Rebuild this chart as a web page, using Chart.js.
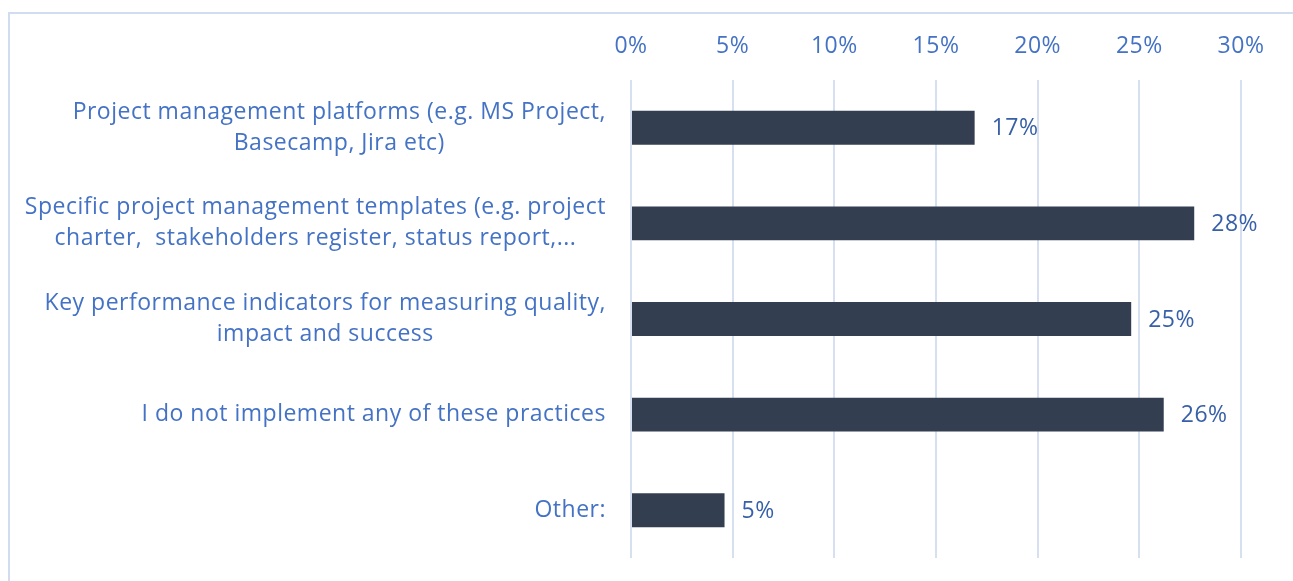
<!DOCTYPE html>
<html>
<head>
<meta charset="utf-8">
<script src="https://cdn.jsdelivr.net/npm/chart.js@4.4.1/dist/chart.umd.min.js"></script>
<style>
  html, body { margin: 0; padding: 0; background: #fff; }
  #wrap { width: 1293px; height: 581px; position: relative; }
</style>
</head>
<body>
<div id="wrap"><canvas id="chart" width="1293" height="581"></canvas></div>
<script>
const categories = [
    ['Project management platforms (e.g. MS Project,', 'Basecamp, Jira etc)'],
    ['Specific project management templates (e.g. project', 'charter,  stakeholders register, status report,...'],
    ['Key performance indicators for measuring quality,', 'impact and success'],
    ['I do not implement any of these practices'],
    ['Other:']
];
const values = [16.9, 27.7, 24.6, 26.2, 4.6];
const valueLabels = ['17%', '28%', '25%', '26%', '5%'];
const tickValues = [0, 5, 10, 15, 20, 25, 30];

const labelBlue = '#4472C4';
const dataBlue = '#3760A8';
const barColor = '#333F50';
const gridColor = '#D6E0F1';
const fontFamily = '"Open Sans", "Noto Sans", sans-serif';
const fontSize = 23;

// outer frame line (left + top), also sets letter spacing for all text
const framePlugin = {
    id: 'frame',
    beforeDraw(chart) {
        const ctx = chart.ctx;
        ctx.letterSpacing = '0.5px';
        ctx.save();
        ctx.strokeStyle = '#D0DCEF';
        ctx.lineWidth = 2;
        ctx.beginPath();
        ctx.moveTo(9, 581);
        ctx.lineTo(9, 13);
        ctx.lineTo(1293, 13);
        ctx.stroke();
        ctx.restore();
    }
};

// category labels: block right-aligned, lines centred within the block
const categoryLabelPlugin = {
    id: 'categoryLabels',
    afterDraw(chart) {
        const ctx = chart.ctx;
        const yScale = chart.scales.y;
        ctx.save();
        ctx.font = fontSize + 'px ' + fontFamily;
        ctx.fillStyle = labelBlue;
        ctx.textAlign = 'center';
        ctx.textBaseline = 'middle';
        const rightEdge = 606;
        const lineH = 31;
        categories.forEach((lines, i) => {
            const cy = yScale.getPixelForValue(i);
            let maxW = 0;
            lines.forEach(l => { maxW = Math.max(maxW, ctx.measureText(l).width); });
            const cx = rightEdge - maxW / 2;
            const startY = cy - (lines.length - 1) * lineH / 2;
            lines.forEach((l, j) => ctx.fillText(l, cx, startY + j * lineH));
        });
        ctx.restore();
    }
};

// value labels right of the bars
const valueLabelPlugin = {
    id: 'valueLabels',
    afterDatasetsDraw(chart) {
        const ctx = chart.ctx;
        const meta = chart.getDatasetMeta(0);
        ctx.save();
        ctx.font = fontSize + 'px ' + fontFamily;
        ctx.fillStyle = dataBlue;
        ctx.textAlign = 'left';
        ctx.textBaseline = 'middle';
        meta.data.forEach((bar, i) => {
            ctx.fillText(valueLabels[i], bar.x + 17, bar.y + 1);
        });
        ctx.restore();
    }
};

new Chart(document.getElementById('chart'), {
    type: 'bar',
    data: {
        labels: categories.map(c => c.join(' ')),
        datasets: [{
            data: values,
            backgroundColor: barColor,
            borderWidth: 0,
            barPercentage: 0.355,
            categoryPercentage: 1
        }]
    },
    options: {
        indexAxis: 'y',
        responsive: false,
        animation: false,
        layout: { padding: { left: 0, right: 52, top: 0, bottom: 23 } },
        plugins: {
            legend: { display: false },
            tooltip: { enabled: false }
        },
        scales: {
            x: {
                position: 'top',
                min: 0,
                max: 30,
                afterBuildTicks: scale => { scale.ticks = tickValues.map(v => ({ value: v })); },
                afterFit: scale => { scale.height = 80; },
                ticks: {
                    color: labelBlue,
                    font: { size: fontSize, family: fontFamily },
                    padding: 20,
                    callback: v => v + '%'
                },
                grid: { color: gridColor, lineWidth: 2, drawTicks: false },
                border: { display: false }
            },
            y: {
                afterFit: scale => { scale.width = 631; },
                ticks: { display: false },
                grid: { display: false },
                border: { display: false }
            }
        }
    },
    plugins: [framePlugin, categoryLabelPlugin, valueLabelPlugin]
});
</script>
</body>
</html>
